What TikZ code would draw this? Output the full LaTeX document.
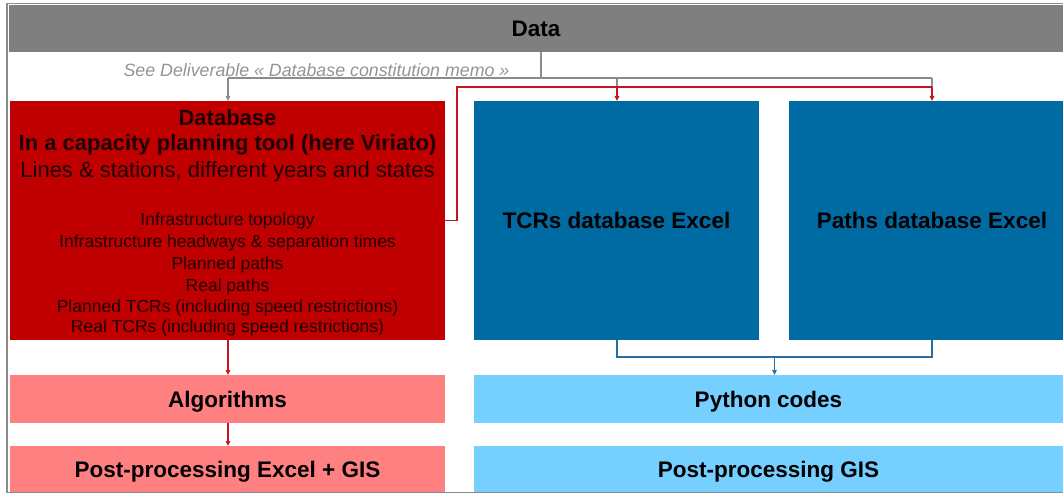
\documentclass[tikz,border=0pt]{standalone}
\usepackage{fontspec}
\setmainfont{Liberation Sans}
\usetikzlibrary{arrows.meta,calc}
\definecolor{datagray}{RGB}{127,127,127}
\definecolor{linegray}{RGB}{140,140,140}
\definecolor{dbred}{RGB}{192,0,0}
\definecolor{lnred}{RGB}{200,20,30}
\definecolor{pink}{RGB}{255,128,128}
\definecolor{dblue}{RGB}{0,106,163}
\definecolor{lblue}{RGB}{117,207,255}
\definecolor{lnblue}{RGB}{40,110,160}
\definecolor{dtext}{RGB}{30,0,0}
\tikzset{
  box/.style={rectangle, inner sep=0pt, outer sep=0pt, draw=none},
  big/.style={font=\fontsize{22.5}{26}\selectfont\bfseries, text height=16pt, text depth=-1.5pt},
  head/.style={font=\fontsize{22}{24}\selectfont, text=dtext, inner sep=0pt},
  small/.style={font=\fontsize{17.5}{20}\selectfont, text=dtext, inner sep=0pt},
  tip/.style={-{Triangle[length=5pt,width=4.5pt]}},
}
\begin{document}
\begin{tikzpicture}[x=1pt,y=-1pt]
\useasboundingbox (0,0) rectangle (1063,494);
% outer frame
\draw[linegray, line width=1.5pt] (1063,3.5) -- (7,3.5) -- (7,492.5) -- (1063,492.5);
% boxes
\node[box, fill=datagray, minimum width=1054pt, minimum height=47pt, big] (data) at (536,28.5) {Data};
\node[box, fill=dbred, minimum width=435pt, minimum height=239pt] (db) at (227.5,220.5) {};
\node[box, fill=dblue, minimum width=285pt, minimum height=239pt, big] (tcr) at (616.5,220.5) {TCRs database Excel};
\node[box, fill=dblue, minimum width=286pt, minimum height=239pt, big, anchor=west] (paths) at (789,220.5) {Paths database Excel};
\node[box, fill=pink, minimum width=435pt, minimum height=48pt, big] (algo) at (227.5,399) {Algorithms};
\node[box, fill=pink, minimum width=435pt, minimum height=46pt, big] (posta) at (227.5,469) {Post-processing Excel + GIS};
\node[box, fill=lblue, minimum width=589pt, minimum height=48pt, big] (py) at (768.5,399) {Python codes};
\node[box, fill=lblue, minimum width=589pt, minimum height=46pt, big] (postg) at (768.5,469) {Post-processing GIS};
% database texts
\node[head, font=\fontsize{22}{24}\selectfont\bfseries] (t1) at (227.5,118) {Database};
\node[head, font=\fontsize{22}{24}\selectfont\bfseries] (t2) at (227.5,145) {In a capacity planning tool (here Viriato)};
\node[head] (t3) at (227.5,172) {Lines \& stations, different years and states};
\node[small] (s1) at (227.5,221) {Infrastructure topology};
\node[small] (s2) at (227.5,243) {Infrastructure headways \& separation times};
\node[small] (s3) at (227.5,265) {Planned paths};
\node[small] (s4) at (227.5,287) {Real paths};
\node[small] (s5) at (227.5,308) {Planned TCRs (including speed restrictions)};
\node[small] (s6) at (227.5,328) {Real TCRs (including speed restrictions)};
% memo label
\node[font=\fontsize{17.8}{20}\selectfont\itshape, text=gray!85, inner sep=0pt] (memo) at (316.5,70) {See Deliverable « Database constitution memo »};
% gray connectors
\coordinate (g0) at (541,78);
\draw[linegray, line width=1.2pt] (data.south -| g0) -- (g0);
\draw[linegray, line width=1.2pt] (228,78) -- (932,78);
\draw[linegray, line width=1.2pt, tip] (228,78) -- (db.north -| 228,0);
\draw[linegray, line width=1.2pt] (617,78) -- (617,87);
\draw[linegray, line width=1.2pt] (932,78) -- (932,87);
% red connectors
\draw[lnred, line width=1.3pt] (db.east) -- (457,220.5) -- (457,87) -- (932,87);
\draw[lnred, line width=1.3pt, tip] (617,87) -- (tcr.north -| 617,0);
\draw[lnred, line width=1.3pt, tip] (932,87) -- (paths.north -| 932,0);
\draw[lnred, line width=1.3pt, tip] (db.south -| 228,0) -- (algo.north -| 228,0);
\draw[lnred, line width=1.3pt, tip] (algo.south -| 228,0) -- (posta.north -| 228,0);
% blue connectors
\draw[lnblue, line width=1.3pt] (tcr.south -| 617,0) -- (617,357) -- (932,357) -- (paths.south -| 932,0);
\draw[lnblue, line width=1.3pt, tip] (774.5,357) -- (py.north -| 774.5,0);
\end{tikzpicture}
\end{document}
